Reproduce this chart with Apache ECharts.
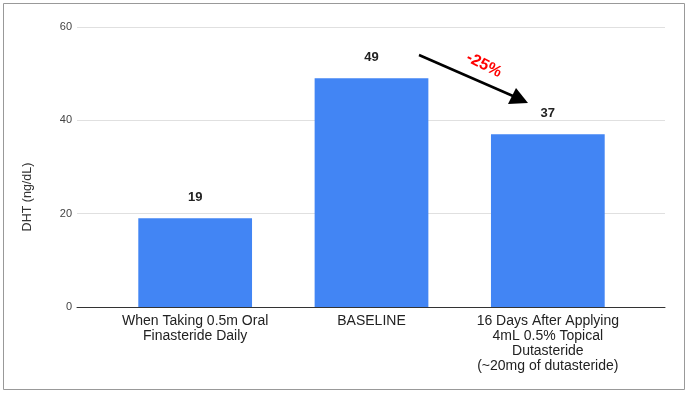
<!DOCTYPE html>
<html>
<head>
<meta charset="utf-8">
<script src="https://cdn.jsdelivr.net/npm/echarts@6/dist/echarts.min.js"></script>
<style>
html,body{margin:0;padding:0;background:#fff;}
#c{width:688px;height:394px;}
</style>
</head>
<body>
<div id="c"></div>
<script>
const categories = [
  "When Taking 0.5m Oral\nFinasteride Daily",
  "BASELINE",
  "16 Days After Applying\n4mL 0.5% Topical\nDutasteride\n(~20mg of dutasteride)"
];
const dhtValues = [19, 49, 37];
const yTicks = [0, 20, 40, 60];
const yAxisTitle = "DHT (ng/dL)";
const changeLabel = "-25%";

const chart = echarts.init(document.getElementById('c'), null, {renderer: 'canvas'});
const font = 'Arial, "Liberation Sans", sans-serif';
const yMin = yTicks[0], yMax = yTicks[yTicks.length - 1], yStep = yTicks[1] - yTicks[0];

chart.setOption({
  animation: false,
  backgroundColor: '#fff',
  grid: [
    {left: 77, right: 23, top: 27, bottom: 87},
    {left: 107, right: 52, top: 27, bottom: 87}
  ],
  xAxis: [
    {type: 'category', gridIndex: 0, data: [''],
     axisLine: {show: true, lineStyle: {color: '#333', width: 1}},
     axisTick: {show: false}, axisLabel: {show: false}},
    {type: 'category', gridIndex: 1, data: categories,
     axisLine: {show: false}, axisTick: {show: false},
     axisLabel: {color: '#222', fontSize: 14, fontFamily: font, lineHeight: 15, margin: 7, interval: 0}}
  ],
  yAxis: [
    {type: 'value', gridIndex: 0, min: yMin, max: yMax, interval: yStep,
     axisLine: {show: false}, axisTick: {show: false},
     axisLabel: {color: '#444', fontSize: 11, fontFamily: font, margin: 5},
     splitLine: {lineStyle: {color: '#e0e0e0', width: 1}}},
    {type: 'value', gridIndex: 1, min: yMin, max: yMax, interval: yStep, show: false,
     splitLine: {show: false}}
  ],
  series: [{
    type: 'bar', xAxisIndex: 1, yAxisIndex: 1,
    data: dhtValues,
    barWidth: '64.5%',
    itemStyle: {color: '#4285F4'},
    label: {show: true, position: 'top', distance: 14, color: '#222',
            fontWeight: 'bold', fontSize: 13, fontFamily: font}
  }],
  graphic: [
    {type: 'text', x: 28, y: 197, rotation: Math.PI / 2,
     style: {text: yAxisTitle, fill: '#333', font: '12.5px ' + font, textAlign: 'center', textVerticalAlign: 'middle'}},
    {type: 'rect', shape: {x: 3.5, y: 3.5, width: 681, height: 386},
     style: {fill: null, stroke: '#999', lineWidth: 1}, silent: true},
    {type: 'line', shape: {x1: 419, y1: 55, x2: 513, y2: 96},
     style: {stroke: '#000', lineWidth: 2.5}},
    {type: 'polygon', shape: {points: [[528, 103], [508, 104], [516, 88]]},
     style: {fill: '#000'}},
    {type: 'text', x: 484, y: 65, rotation: -0.47,
     style: {text: changeLabel, fill: '#ff0000', font: 'bold 16px ' + font, textAlign: 'center', textVerticalAlign: 'middle'}}
  ]
});
</script>
</body>
</html>
